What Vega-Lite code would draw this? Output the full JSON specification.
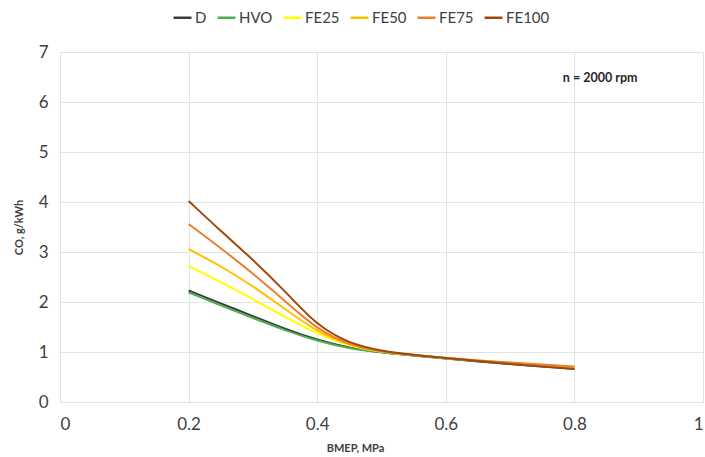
{
  "$schema": "https://vega.github.io/schema/vega-lite/v6.json",
  "autosize": {"type": "none"},
  "width": 643,
  "height": 350,
  "padding": {"left": 60, "top": 52, "right": 2, "bottom": 55},
  "background": "white",
  "config": {
    "view": {"stroke": null},
    "font": "Lato",
    "axis": {"labelFont": "Lato", "titleFont": "Lato"},
    "legend": {"labelFont": "Lato"}
  },
  "datasets": {
    "curves": [
      {"fuel": "D", "bmep": 0.2, "co": 2.23}, {"fuel": "D", "bmep": 0.25, "co": 1.97}, {"fuel": "D", "bmep": 0.3, "co": 1.72}, {"fuel": "D", "bmep": 0.35, "co": 1.46}, {"fuel": "D", "bmep": 0.4, "co": 1.24}, {"fuel": "D", "bmep": 0.45, "co": 1.08}, {"fuel": "D", "bmep": 0.5, "co": 0.99}, {"fuel": "D", "bmep": 0.55, "co": 0.93}, {"fuel": "D", "bmep": 0.6, "co": 0.87}, {"fuel": "D", "bmep": 0.65, "co": 0.81}, {"fuel": "D", "bmep": 0.7, "co": 0.76}, {"fuel": "D", "bmep": 0.75, "co": 0.71}, {"fuel": "D", "bmep": 0.8, "co": 0.66},
      {"fuel": "HVO", "bmep": 0.2, "co": 2.19}, {"fuel": "HVO", "bmep": 0.25, "co": 1.93}, {"fuel": "HVO", "bmep": 0.3, "co": 1.68}, {"fuel": "HVO", "bmep": 0.35, "co": 1.43}, {"fuel": "HVO", "bmep": 0.4, "co": 1.22}, {"fuel": "HVO", "bmep": 0.45, "co": 1.07}, {"fuel": "HVO", "bmep": 0.5, "co": 0.99}, {"fuel": "HVO", "bmep": 0.55, "co": 0.93}, {"fuel": "HVO", "bmep": 0.6, "co": 0.87}, {"fuel": "HVO", "bmep": 0.65, "co": 0.82}, {"fuel": "HVO", "bmep": 0.7, "co": 0.77}, {"fuel": "HVO", "bmep": 0.75, "co": 0.72}, {"fuel": "HVO", "bmep": 0.8, "co": 0.68},
      {"fuel": "FE25", "bmep": 0.2, "co": 2.72}, {"fuel": "FE25", "bmep": 0.25, "co": 2.4}, {"fuel": "FE25", "bmep": 0.3, "co": 2.06}, {"fuel": "FE25", "bmep": 0.35, "co": 1.7}, {"fuel": "FE25", "bmep": 0.4, "co": 1.36}, {"fuel": "FE25", "bmep": 0.45, "co": 1.12}, {"fuel": "FE25", "bmep": 0.5, "co": 1.0}, {"fuel": "FE25", "bmep": 0.55, "co": 0.94}, {"fuel": "FE25", "bmep": 0.6, "co": 0.88}, {"fuel": "FE25", "bmep": 0.65, "co": 0.83}, {"fuel": "FE25", "bmep": 0.7, "co": 0.78}, {"fuel": "FE25", "bmep": 0.75, "co": 0.73}, {"fuel": "FE25", "bmep": 0.8, "co": 0.69},
      {"fuel": "FE50", "bmep": 0.2, "co": 3.06}, {"fuel": "FE50", "bmep": 0.25, "co": 2.72}, {"fuel": "FE50", "bmep": 0.3, "co": 2.32}, {"fuel": "FE50", "bmep": 0.35, "co": 1.86}, {"fuel": "FE50", "bmep": 0.4, "co": 1.4}, {"fuel": "FE50", "bmep": 0.45, "co": 1.13}, {"fuel": "FE50", "bmep": 0.5, "co": 1.0}, {"fuel": "FE50", "bmep": 0.55, "co": 0.94}, {"fuel": "FE50", "bmep": 0.6, "co": 0.88}, {"fuel": "FE50", "bmep": 0.65, "co": 0.83}, {"fuel": "FE50", "bmep": 0.7, "co": 0.78}, {"fuel": "FE50", "bmep": 0.75, "co": 0.74}, {"fuel": "FE50", "bmep": 0.8, "co": 0.7},
      {"fuel": "FE75", "bmep": 0.2, "co": 3.56}, {"fuel": "FE75", "bmep": 0.25, "co": 3.08}, {"fuel": "FE75", "bmep": 0.3, "co": 2.57}, {"fuel": "FE75", "bmep": 0.35, "co": 2.02}, {"fuel": "FE75", "bmep": 0.4, "co": 1.45}, {"fuel": "FE75", "bmep": 0.45, "co": 1.14}, {"fuel": "FE75", "bmep": 0.5, "co": 1.0}, {"fuel": "FE75", "bmep": 0.55, "co": 0.94}, {"fuel": "FE75", "bmep": 0.6, "co": 0.88}, {"fuel": "FE75", "bmep": 0.65, "co": 0.83}, {"fuel": "FE75", "bmep": 0.7, "co": 0.79}, {"fuel": "FE75", "bmep": 0.75, "co": 0.75}, {"fuel": "FE75", "bmep": 0.8, "co": 0.71},
      {"fuel": "FE100", "bmep": 0.2, "co": 4.02}, {"fuel": "FE100", "bmep": 0.25, "co": 3.42}, {"fuel": "FE100", "bmep": 0.3, "co": 2.85}, {"fuel": "FE100", "bmep": 0.35, "co": 2.22}, {"fuel": "FE100", "bmep": 0.4, "co": 1.52}, {"fuel": "FE100", "bmep": 0.45, "co": 1.17}, {"fuel": "FE100", "bmep": 0.5, "co": 1.02}, {"fuel": "FE100", "bmep": 0.55, "co": 0.94}, {"fuel": "FE100", "bmep": 0.6, "co": 0.88}, {"fuel": "FE100", "bmep": 0.65, "co": 0.82}, {"fuel": "FE100", "bmep": 0.7, "co": 0.76}, {"fuel": "FE100", "bmep": 0.75, "co": 0.71}, {"fuel": "FE100", "bmep": 0.8, "co": 0.66}
    ],
    "note": [{"bmep": 0.782, "co": 6.48, "label": "n = 2000 rpm"}]
  },
  "layer": [
    {
      "data": {"name": "curves"},
      "mark": {"type": "line", "interpolate": "basis", "strokeWidth": 2},
      "encoding": {
        "x": {
          "field": "bmep", "type": "quantitative",
          "scale": {"domain": [0, 1], "nice": false},
          "axis": {
            "values": [0, 0.2, 0.4, 0.6, 0.8, 1],
            "format": "~g",
            "title": "BMEP, MPa",
            "titleFontSize": 11, "titleFontWeight": "bold", "titleColor": "#404040",
            "titleX": 295, "titleY": 40,
            "labelFontSize": 17, "labelColor": "#404040", "labelPadding": 14,
            "ticks": false, "domain": false,
            "grid": true, "gridColor": "#e3e3e3", "gridWidth": 1
          }
        },
        "y": {
          "field": "co", "type": "quantitative",
          "scale": {"domain": [0, 7], "nice": false},
          "axis": {
            "values": [0, 1, 2, 3, 4, 5, 6, 7],
            "title": "CO, g/kWh",
            "titleFontSize": 11, "titleFontWeight": "bold", "titleColor": "#404040",
            "titlePadding": 14,
            "labelFontSize": 17, "labelColor": "#404040", "labelPadding": 12,
            "ticks": false, "domain": false,
            "grid": true, "gridColor": "#e3e3e3", "gridWidth": 1
          }
        },
        "color": {
          "field": "fuel", "type": "nominal",
          "scale": {
            "domain": ["D", "HVO", "FE25", "FE50", "FE75", "FE100"],
            "range": ["#3a3a3a", "#4caf50", "#ffff00", "#ffc000", "#ed7d31", "#9e480e"]
          },
          "legend": {
            "orient": "none", "direction": "horizontal",
            "legendX": 112, "legendY": -45,
            "title": null,
            "symbolType": "stroke", "symbolStrokeWidth": 2.5, "symbolSize": 320,
            "labelFontSize": 15, "labelColor": "#404040",
            "columnPadding": 5, "labelOffset": 2
          }
        }
      }
    },
    {
      "data": {"name": "note"},
      "mark": {"type": "text", "align": "left", "baseline": "middle", "fontSize": 12.5, "fontWeight": "bold", "color": "#262626", "font": "Lato"},
      "encoding": {
        "x": {"field": "bmep", "type": "quantitative"},
        "y": {"field": "co", "type": "quantitative"},
        "text": {"field": "label"}
      }
    }
  ]
}
